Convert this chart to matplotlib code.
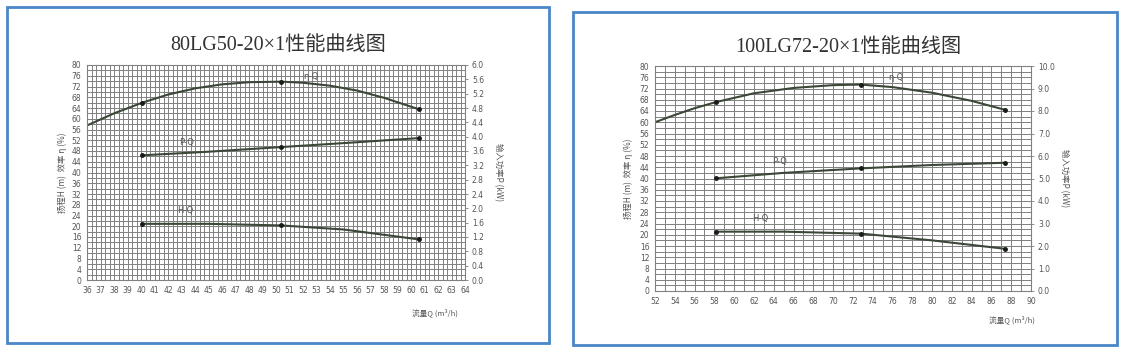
import matplotlib
matplotlib.use("Agg")
import matplotlib.pyplot as plt
from matplotlib.patches import Rectangle
from matplotlib.ticker import MultipleLocator, FormatStrFormatter

# ---- data ----
# left chart: 80LG50-20x1
l_title = "80LG50-20×1性能曲线图"
l_xticks = list(range(36, 65))
l_eff_q = [36, 38, 40.1, 42, 44, 46, 48, 50.4, 52, 54, 56, 58, 60.6]
l_eff = [57.5, 62.0, 66.0, 69.0, 71.3, 72.8, 73.6, 73.8, 73.4, 72.3, 70.5, 67.8, 63.5]
l_pt_q = [40.1, 50.4, 60.6]
l_eff_pts = [66.0, 73.8, 63.5]
l_head_q = [40.1, 45, 50.4, 55, 60.6]
l_head = [20.9, 20.9, 20.3, 18.8, 15.1]
l_head_pts = [20.9, 20.3, 15.1]
l_pow_q = [40.1, 45, 50.4, 55, 60.6]
l_pow = [3.48, 3.58, 3.71, 3.82, 3.96]
l_pow_pts = [3.48, 3.71, 3.96]

# right chart: 100LG72-20x1
r_title = "100LG72-20×1性能曲线图"
r_xticks = list(range(52, 91, 2))
r_eff_q = [52, 54, 56, 58.2, 62, 66, 70, 72.8, 76, 80, 84, 87.4]
r_eff = [60.0, 62.6, 65.0, 67.2, 70.3, 72.2, 73.2, 73.4, 72.5, 70.5, 67.6, 64.4]
r_pt_q = [58.2, 72.8, 87.4]
r_eff_pts = [67.2, 73.4, 64.4]
r_head_q = [58.2, 65, 72.8, 80, 87.4]
r_head = [21.1, 21.1, 20.4, 18.0, 15.0]
r_head_pts = [21.1, 20.4, 15.0]
r_pow_q = [58.2, 65, 72.8, 80, 87.4]
r_pow = [5.01, 5.25, 5.45, 5.6, 5.7]
r_pow_pts = [5.01, 5.45, 5.7]

left_ticks = list(range(0, 81, 4))

CJK = ["Noto Sans CJK SC", "DejaVu Sans"]
SERIF = ["Liberation Serif", "Noto Sans CJK SC"]
LINE = "#3b4838"
GRID = "#808080"
TXT = "#555555"
BLUE = "#4a86c8"

fig = plt.figure(figsize=(11.28, 3.57), dpi=100)
fig.patch.set_facecolor("white")


def panel(rect, frame, title, title_xy, xticks, xminor, xlim,
          eq, ev, pq, pe, hq, hv, ph, wq, wv, pw, pmax, pstep, pfmt,
          labels, xlab_xy, ylab_x):
    fig.patches.append(Rectangle(frame[:2], frame[2], frame[3], transform=fig.transFigure,
                                 fill=False, edgecolor=BLUE, lw=2))
    fig.text(title_xy[0], title_xy[1], title, ha="center", va="center",
             fontsize=14.5, family=SERIF, color="#333333")
    ax = fig.add_axes(rect)
    ax.set_xlim(*xlim)
    ax.set_ylim(0, 80)
    ax.set_xticks(xticks)
    ax.set_yticks(left_ticks)
    ax.xaxis.set_minor_locator(MultipleLocator(xminor))
    ax.yaxis.set_minor_locator(MultipleLocator(2))
    ax.grid(True, which="both", color=GRID, lw=0.7)
    ax.set_axisbelow(True)
    for s in ax.spines.values():
        s.set_color(GRID)
        s.set_linewidth(0.8)
    ax.tick_params(which="both", length=0, labelsize=5.5, labelcolor=TXT, pad=4)

    ax.plot(eq, ev, color=LINE, lw=1.5)
    ax.plot(pq, pe, "o", color="#1a1a1a", ms=2.5)
    ax.plot(hq, hv, color=LINE, lw=1.5)
    ax.plot(pq, ph, "o", color="#1a1a1a", ms=2.5)

    ax2 = ax.twinx()
    ax2.set_ylim(0, pmax)
    ax2.yaxis.set_major_locator(MultipleLocator(pstep))
    ax2.yaxis.set_major_formatter(FormatStrFormatter(pfmt))
    ax2.tick_params(length=2, width=0.6, color=GRID, labelsize=5.5, labelcolor=TXT, pad=3)
    for s in ax2.spines.values():
        s.set_visible(False)
    ax2.plot(wq, wv, color=LINE, lw=1.5)
    ax2.plot(pq, pw, "o", color="#1a1a1a", ms=2.5)

    for txt, (x, y) in labels.items():
        ax.text(x, y, txt, fontsize=6, color=TXT, ha="center", va="center")

    fig.text(xlab_xy[0], xlab_xy[1], "流量Q (m³/h)", fontsize=5.5, color=TXT,
             family=CJK, ha="center", va="center")
    fig.text(ylab_x[0], rect[1] + rect[3] * 0.5, "扬程H (m)  效率 η (%)", rotation=90,
             fontsize=6, color=TXT, family=CJK, ha="center", va="center")
    fig.text(ylab_x[1], rect[1] + rect[3] * 0.5, "输入功率P (kW)", rotation=270,
             fontsize=6, color=TXT, family=CJK, ha="center", va="center")


panel([87 / 1128, 77 / 357, 378 / 1128, 215 / 357],
      (7 / 1128, 14 / 357, 542 / 1128, 336 / 357),
      l_title, (278 / 1128, 1 - 45 / 357), l_xticks, 1 / 3, (36, 64),
      l_eff_q, l_eff, l_pt_q, l_eff_pts, l_head_q, l_head, l_head_pts,
      l_pow_q, l_pow, l_pow_pts, 6.0, 0.4, "%.1f",
      {"η-Q": (52.6, 75.8), "P-Q": (43.4, 51.0), "H-Q": (43.3, 26.0)},
      (435 / 1128, 1 - 313 / 357), (62 / 1128, 498 / 1128))

panel([655 / 1128, 66 / 357, 376 / 1128, 225 / 357],
      (573 / 1128, 12 / 357, 544 / 1128, 333 / 357),
      r_title, (848 / 1128, 1 - 47 / 357), r_xticks, 1, (52, 90),
      r_eff_q, r_eff, r_pt_q, r_eff_pts, r_head_q, r_head, r_head_pts,
      r_pow_q, r_pow, r_pow_pts, 10.0, 1.0, "%.1f",
      {"η-Q": (76.3, 75.8), "P-Q": (64.6, 46.2), "H-Q": (62.6, 25.8)},
      (1012 / 1128, 1 - 320 / 357), (628 / 1128, 1064 / 1128))

fig.savefig("out.png", dpi=100, facecolor="white")
